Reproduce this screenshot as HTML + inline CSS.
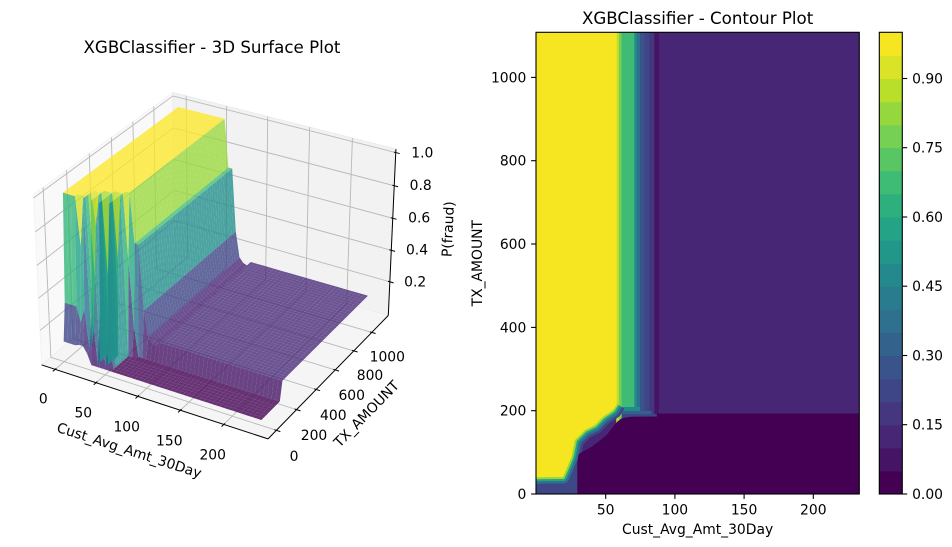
<!DOCTYPE html>
<html>
<head>
<meta charset="utf-8">
<style>
html,body{margin:0;padding:0;background:#fff;}
body{width:952px;height:547px;overflow:hidden;}
svg{display:block;}
</style>
</head>
<body>
<svg id="root" width="952" height="547" viewBox="0 0 952 547" xmlns="http://www.w3.org/2000/svg" font-family="DejaVu Sans, Liberation Sans, sans-serif">
<rect x="0" y="0" width="952" height="547" fill="#ffffff"/>

<!-- ============ 3D plot ============ -->
<g id="ax3d"></g>
<g id="surf"></g>

<g font-size="13.89" fill="#000" text-anchor="middle">
  <text x="43.3" y="403.3">0</text>
  <text x="83.3" y="417.7">50</text>
  <text x="126.7" y="431.7">100</text>
  <text x="169.3" y="445.7">150</text>
  <text x="212.7" y="459.7">200</text>

  <text x="294" y="461">0</text>
  <text x="314" y="440">200</text>
  <text x="333.3" y="420">400</text>
  <text x="351.7" y="400">600</text>
  <text x="370" y="380">800</text>
  <text x="387.3" y="361.7">1000</text>

  <text x="422.3" y="157.7">1.0</text>
  <text x="420.7" y="190">0.8</text>
  <text x="419.2" y="222.7">0.6</text>
  <text x="417" y="254.7">0.4</text>
  <text x="415.2" y="286.7">0.2</text>

  <text transform="translate(129,451) rotate(18)" x="0" y="4">Cust_Avg_Amt_30Day</text>
  <text transform="translate(366.5,414) rotate(-45.7)" x="0" y="4.5">TX_AMOUNT</text>
  <text transform="translate(448.8,229.2) rotate(-87.4)" x="0" y="4">P(fraud)</text>
</g>
<text x="212" y="53" font-size="16.67" text-anchor="middle" fill="#000">XGBClassifier - 3D Surface Plot</text>

<!-- ============ Contour plot ============ -->
<defs>
  <clipPath id="axclip"><rect x="536" y="32.3" width="323.3" height="461.7"/></clipPath>
</defs>
<g clip-path="url(#axclip)">
  <rect x="536" y="32.3" width="323.3" height="461.7" fill="#482676"/>
  <rect x="536" y="468" width="45" height="26" fill="#3f4687"/>
  <!-- vertical transition strips -->
  <rect x="616.2" y="32.3" width="3.2" height="392" fill="#b9df2b"/>
  <rect x="619.2" y="32.3" width="2.7" height="392" fill="#76d053"/>
  <rect x="621.7" y="32.3" width="12.8" height="392" fill="#3ebb74"/>
  <rect x="634.3" y="32.3" width="3.1" height="392" fill="#24898d"/>
  <rect x="637.2" y="32.3" width="3" height="392" fill="#2e708e"/>
  <rect x="640" y="32.3" width="4.7" height="392" fill="#39548b"/>
  <rect x="644.5" y="32.3" width="5" height="392" fill="#3f4687"/>
  <rect x="649.3" y="32.3" width="5.2" height="392" fill="#44367f"/>
  <rect x="654.3" y="32.3" width="4.7" height="392" fill="#461465"/>
  <rect x="621.7" y="407" width="18.3" height="4" fill="#24898d"/>
  <rect x="621.7" y="411" width="30" height="3" fill="#33638d"/>
  <rect x="621.7" y="414" width="35" height="4" fill="#3f4687"/>
  <!-- halo around staircase boundary -->
  <g fill="none" stroke-linejoin="round" stroke-linecap="butt">
    <polyline points="616.7,404 613,410 603,416.7 595,425 585,430 580,435 575,440 573,450 571.5,457 569,463 566,470 563,477 536,477.3 528,477.3" stroke="#3f4687" stroke-width="18"/>
    <polyline points="616.7,404 613,410 603,416.7 595,425 585,430 580,435 575,440 573,450 571.5,457 569,463 566,470 563,477 536,477.3 528,477.3" stroke="#2e708e" stroke-width="13"/>
    <polyline points="616.7,404 613,410 603,416.7 595,425 585,430 580,435 575,440 573,450 571.5,457 569,463 566,470 563,477 536,477.3 528,477.3" stroke="#24a386" stroke-width="8"/>
    <polyline points="616.7,404 613,410 603,416.7 595,425 585,430 580,435 575,440 573,450 571.5,457 569,463 566,470 563,477 536,477.3 528,477.3" stroke="#97d73e" stroke-width="4"/>
  </g>
  <polygon points="536,32.3 616.7,32.3 616.7,405 613,410 603,416.7 595,425 585,430 580,435 575,440 573,450 571.5,457 569,463 566,470 563,477 536,477.3" fill="#f6e621"/>
  <polygon points="577.3,494 577.3,463 578.3,455 580,453.3 591.7,446.7 598.3,441.7 606.7,435 611.7,428.3 617.3,421.7 621.7,418.3 630,416.7 657,416.5 657,413.5 859.3,413.5 859.3,494" fill="#440154"/>
</g>
<rect x="536" y="32.3" width="323.3" height="461.7" fill="none" stroke="#000" stroke-width="1.1"/>

<!-- contour ticks -->
<g stroke="#000" stroke-width="1.1">
  <line x1="531.1" y1="494" x2="536" y2="494"/>
  <line x1="531.1" y1="410.7" x2="536" y2="410.7"/>
  <line x1="531.1" y1="327.4" x2="536" y2="327.4"/>
  <line x1="531.1" y1="244" x2="536" y2="244"/>
  <line x1="531.1" y1="160.7" x2="536" y2="160.7"/>
  <line x1="531.1" y1="77.4" x2="536" y2="77.4"/>
  <line x1="605.7" y1="494" x2="605.7" y2="498.9"/>
  <line x1="674.9" y1="494" x2="674.9" y2="498.9"/>
  <line x1="744.1" y1="494" x2="744.1" y2="498.9"/>
  <line x1="813.3" y1="494" x2="813.3" y2="498.9"/>
</g>
<g font-size="13.89" fill="#000">
  <g text-anchor="end">
    <text x="526.3" y="499">0</text>
    <text x="526.3" y="415.7">200</text>
    <text x="526.3" y="332.4">400</text>
    <text x="526.3" y="249">600</text>
    <text x="526.3" y="165.7">800</text>
    <text x="526.3" y="82.4">1000</text>
  </g>
  <g text-anchor="middle">
    <text x="605.7" y="514.5">50</text>
    <text x="674.9" y="514.5">100</text>
    <text x="744.1" y="514.5">150</text>
    <text x="813.3" y="514.5">200</text>
    <text x="697.6" y="534">Cust_Avg_Amt_30Day</text>
    <text transform="translate(482.1,263.2) rotate(-90)" x="0" y="0">TX_AMOUNT</text>
  </g>
</g>
<text x="697.6" y="24" font-size="16.67" text-anchor="middle" fill="#000">XGBClassifier - Contour Plot</text>

<!-- colorbar -->
<g>
  <rect x="879.3" y="470.9" width="23" height="23.1" fill="#440154"/>
  <rect x="879.3" y="447.8" width="23" height="23.6" fill="#461465"/>
  <rect x="879.3" y="424.7" width="23" height="23.6" fill="#482676"/>
  <rect x="879.3" y="401.7" width="23" height="23.6" fill="#44367f"/>
  <rect x="879.3" y="378.6" width="23" height="23.6" fill="#3f4687"/>
  <rect x="879.3" y="355.5" width="23" height="23.6" fill="#39548b"/>
  <rect x="879.3" y="332.4" width="23" height="23.6" fill="#33638d"/>
  <rect x="879.3" y="309.3" width="23" height="23.6" fill="#2e708e"/>
  <rect x="879.3" y="286.2" width="23" height="23.6" fill="#287c8e"/>
  <rect x="879.3" y="263.2" width="23" height="23.6" fill="#24898d"/>
  <rect x="879.3" y="240.1" width="23" height="23.6" fill="#21978a"/>
  <rect x="879.3" y="217" width="23" height="23.6" fill="#24a386"/>
  <rect x="879.3" y="193.9" width="23" height="23.6" fill="#2eaf7e"/>
  <rect x="879.3" y="170.8" width="23" height="23.6" fill="#3ebb74"/>
  <rect x="879.3" y="147.7" width="23" height="23.6" fill="#59c664"/>
  <rect x="879.3" y="124.6" width="23" height="23.6" fill="#76d053"/>
  <rect x="879.3" y="101.6" width="23" height="23.6" fill="#97d73e"/>
  <rect x="879.3" y="78.5" width="23" height="23.6" fill="#b9df2b"/>
  <rect x="879.3" y="55.4" width="23" height="23.6" fill="#dbe328"/>
  <rect x="879.3" y="32.3" width="23" height="23.6" fill="#f6e621"/>
  <rect x="879.3" y="32.3" width="23" height="461.7" fill="none" stroke="#000" stroke-width="1.1"/>
</g>
<g stroke="#000" stroke-width="1.1">
  <line x1="902.3" y1="494" x2="907.2" y2="494"/>
  <line x1="902.3" y1="424.7" x2="907.2" y2="424.7"/>
  <line x1="902.3" y1="355.5" x2="907.2" y2="355.5"/>
  <line x1="902.3" y1="286.2" x2="907.2" y2="286.2"/>
  <line x1="902.3" y1="217" x2="907.2" y2="217"/>
  <line x1="902.3" y1="147.7" x2="907.2" y2="147.7"/>
  <line x1="902.3" y1="78.5" x2="907.2" y2="78.5"/>
</g>
<g font-size="13.89" fill="#000">
  <text x="912.1" y="499">0.00</text>
  <text x="912.1" y="429.7">0.15</text>
  <text x="912.1" y="360.5">0.30</text>
  <text x="912.1" y="291.2">0.45</text>
  <text x="912.1" y="222">0.60</text>
  <text x="912.1" y="152.7">0.75</text>
  <text x="912.1" y="83.5">0.90</text>
</g>
</svg>

<script>
(function(){
var NS='http://www.w3.org/2000/svg';
var S=2178, CX=218.2, CY=257.4, A=1.142857, AZ=0.857143;
var PX=0.595238, PZ=0.446429, D=0.0992;
function wx(x){return (x-116.65)/255.9*A;}
function wy(y){return (y-553.5)/1217.7*A;}
function wz(z){return (z-0.5015)/0.997*AZ;}
function P(a,b,c){
  var u=0.8660254*a+0.5*b, v=-0.25*a+0.4330127*b+0.8660254*c, w=0.4330127*a-0.75*b+0.5*c, den=10-w;
  return [CX+S*u/den, CY-S*v/den, 10/(w-10)];
}
function pts(arr){return arr.map(function(p){return p[0].toFixed(2)+','+p[1].toFixed(2);}).join(' ');}
function add(parent,tag,attrs){var e=document.createElementNS(NS,tag);for(var k in attrs)e.setAttribute(k,attrs[k]);parent.appendChild(e);return e;}
var g=document.getElementById('ax3d');

// panes
add(g,'polygon',{points:pts([P(-PX,-PX,-PZ),P(-PX,PX,-PZ),P(-PX,PX,PZ),P(-PX,-PX,PZ)]),fill:'#f9f9f9',stroke:'#f3f3f3','stroke-width':1});
add(g,'polygon',{points:pts([P(-PX,PX,-PZ),P(PX,PX,-PZ),P(PX,PX,PZ),P(-PX,PX,PZ)]),fill:'#f2f2f2',stroke:'#ebebeb','stroke-width':1});
add(g,'polygon',{points:pts([P(-PX,-PX,-PZ),P(PX,-PX,-PZ),P(PX,PX,-PZ),P(-PX,PX,-PZ)]),fill:'#f5f5f5',stroke:'#eeeeee','stroke-width':1});

// grid
function gl(p){add(g,'polyline',{points:pts(p),fill:'none',stroke:'#b8b8b8','stroke-width':0.9});}
[0,50,100,150,200].forEach(function(t){var a=wx(t);gl([P(a,-PX,-PZ),P(a,PX,-PZ),P(a,PX,PZ)]);});
[0,200,400,600,800,1000].forEach(function(t){var b=wy(t);gl([P(PX,b,-PZ),P(-PX,b,-PZ),P(-PX,b,PZ)]);});
[0.2,0.4,0.6,0.8,1.0].forEach(function(t){var c=wz(t);gl([P(-PX,-PX,c),P(-PX,PX,c),P(PX,PX,c)]);});

// axis lines
function ln(p,q,wd){add(g,'line',{x1:p[0].toFixed(2),y1:p[1].toFixed(2),x2:q[0].toFixed(2),y2:q[1].toFixed(2),stroke:'#000','stroke-width':wd});}
ln(P(-PX,-PX,-PZ),P(PX,-PX,-PZ),1);
ln(P(PX,-PX,-PZ),P(PX,PX,-PZ),1);
ln(P(PX,PX,-PZ),P(PX,PX,PZ),1);
// ticks
[0,50,100,150,200].forEach(function(t){var a=wx(t);ln(P(a,-PX+0.1*D,-PZ),P(a,-PX-0.2*D,-PZ),1);});
[0,200,400,600,800,1000].forEach(function(t){var b=wy(t);ln(P(PX-0.1*D,b,-PZ),P(PX+0.2*D,b,-PZ),1);});
[0.2,0.4,0.6,0.8,1.0].forEach(function(t){var c=wz(t);ln(P(PX-0.1*D,PX,c),P(PX+0.2*D,PX,c),1);});

// surface data
var NX=50, NY=50;
function xs(i){return 0.3+i*232.7/49;}
function ys(j){return j*1107/49;}
var iyT={8:11,7:9,6:7,5:5,4:5,3:4,2:3};
var trT={8:[0.6,0.2],7:[0.6,0.3],6:[0.5,0.25],5:[0.8,0.3],4:[0.5,0.15],3:[0.6,0.2],2:[0.7,0.3,0.12]};
function zval(i,j){
  if(j>=9){
    if(i<=12) return 0.99;
    if(i<=14) return 0.695;
    if(i===15) return 0.3;
    if(i===16) return 0.14;
    if(i===17) return 0.11;
    if(i===18) return 0.1;
    return 0.13;
  }
  if(j>=2){
    if(i%2===1 && i<=11) return 0.99;
    var iy=iyT[j];
    if(i<=iy) return 0.99;
    var tr=trT[j], k=i-iy-1;
    if(k<tr.length) return tr[k];
    return 0.016;
  }
  if(j===1){
    if(i%2===1 && i<=11) return 0.34;
    if(i<=3) return 0.34;
    if(i===4) return 0.25;
    if(i===6) return 0.1;
    return 0.016;
  }
  if(i<=3) return 0.11;
  if(i<=5) return 0.12;
  if(i===6) return 0.08;
  return 0.016;
}
var Z=[], PP=[];
for(var i=0;i<NX;i++){Z.push([]);PP.push([]);for(var j=0;j<NY;j++){var z=zval(i,j);Z[i].push(z);PP[i].push(P(wx(xs(i)),wy(ys(j)),wz(z)));}}
var polys=[], vmin=1e9, vmax=-1e9;
for(var i=0;i<NX-1;i++){for(var j=0;j<NY-1;j++){
  var c=[[i,j],[i+1,j],[i+1,j+1],[i,j+1]];
  var pp=c.map(function(q){return PP[q[0]][q[1]];});
  var avg=(Z[i][j]+Z[i+1][j]+Z[i+1][j+1]+Z[i][j+1])/4;
  var dep=(pp[0][2]+pp[1][2]+pp[2][2]+pp[3][2])/4;
  if(avg<vmin)vmin=avg; if(avg>vmax)vmax=avg;
  polys.push({pp:pp,avg:avg,dep:dep});
}}
polys.sort(function(a,b){return b.dep-a.dep;});
var VT=[[0,68,1,84],[0.111,72,40,120],[0.125,71,44,122],[0.222,62,73,137],[0.25,59,82,139],[0.333,49,104,142],[0.375,44,114,142],[0.444,38,130,142],[0.5,33,145,140],[0.556,31,158,137],[0.625,39,173,129],[0.667,53,183,121],[0.75,94,201,98],[0.778,110,206,88],[0.875,170,220,50],[0.889,181,222,43],[1,253,231,37]];
function vir(t){
  t=Math.max(0,Math.min(1,t));
  for(var k=1;k<VT.length;k++){
    if(t<=VT[k][0]){var a=VT[k-1],b=VT[k],f=(t-a[0])/(b[0]-a[0]);
      return 'rgb('+Math.round(a[1]+(b[1]-a[1])*f)+','+Math.round(a[2]+(b[2]-a[2])*f)+','+Math.round(a[3]+(b[3]-a[3])*f)+')';}
  }
  return 'rgb(253,231,37)';
}
var sg=document.getElementById('surf');
var frag=document.createDocumentFragment();
polys.forEach(function(p){
  var e=document.createElementNS(NS,'polygon');
  e.setAttribute('points',pts(p.pp));
  e.setAttribute('fill',vir((p.avg-vmin)/(vmax-vmin)));
  e.setAttribute('fill-opacity','0.8');
  frag.appendChild(e);
});
sg.appendChild(frag);
})();
</script>
</body>
</html>
